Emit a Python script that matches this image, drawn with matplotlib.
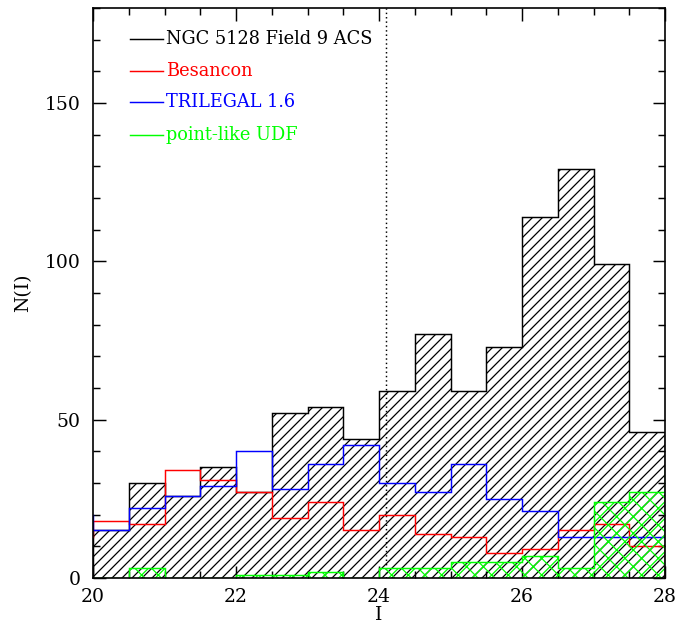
import matplotlib
matplotlib.use("Agg")
import matplotlib.pyplot as plt
import numpy as np
from matplotlib.ticker import MultipleLocator

# I-band counts per 0.5 mag bin
ngc_edges = np.arange(20.0, 28.01, 0.5)
ngc_counts = [15, 30, 26, 35, 27, 52, 54, 44, 59, 77, 59, 73, 114, 129, 99, 46]

besancon_edges = np.arange(19.5, 28.01, 0.5)
besancon_counts = [13, 18, 17, 34, 31, 27, 19, 24, 15, 20, 14, 13, 8, 9, 15, 17, 10]

trilegal_edges = np.arange(19.5, 28.51, 0.5)
trilegal_counts = [20, 15, 22, 26, 29, 40, 28, 36, 42, 30, 27, 36, 25, 21, 13, 13, 13, 13]

udf_edges = np.arange(20.0, 28.51, 0.5)
udf_counts = [0, 3, 0, 0, 1, 1, 2, 0, 3, 3, 5, 5, 7, 3, 24, 27, 34]

cut_mag = 24.1

labels = ["NGC 5128 Field 9 ACS", "Besancon", "TRILEGAL 1.6", "point-like UDF"]
colors = ["black", "#ff0000", "#0000ff", "#00ff00"]

plt.rcParams["font.family"] = ["DejaVu Serif"]
plt.rcParams["hatch.linewidth"] = 0.6

DPI = 150
fig = plt.figure(figsize=(691 / DPI, 629 / DPI), dpi=DPI)
ax = fig.add_axes([0.1346, 0.0811, 0.8278, 0.9062])

ax.stairs(ngc_counts, ngc_edges, baseline=0, fill=True, facecolor="none",
          edgecolor="black", hatch="/////", linewidth=0.7, zorder=2)
ax.stairs(besancon_counts, besancon_edges, baseline=0, color=colors[1],
          linewidth=0.7, zorder=3)
ax.stairs(trilegal_counts, trilegal_edges, baseline=None, color=colors[2],
          linewidth=0.7, zorder=3)
ax.stairs(udf_counts, udf_edges, baseline=0, fill=True, facecolor="none",
          edgecolor=colors[3], hatch="xxx", linewidth=0.7, zorder=4)

ax.axvline(cut_mag, color="black", linestyle=(0, (1, 2)), linewidth=0.7, zorder=1)

ax.set_xlim(20, 28)
ax.set_ylim(0, 180)
ax.xaxis.set_major_locator(MultipleLocator(2))
ax.xaxis.set_minor_locator(MultipleLocator(0.5))
ax.yaxis.set_major_locator(MultipleLocator(50))
ax.yaxis.set_minor_locator(MultipleLocator(10))
ax.tick_params(which="both", direction="in", top=True, right=True,
               width=0.7, labelsize=9)
ax.tick_params(axis="x", pad=5)
ax.tick_params(axis="y", pad=6)
ax.tick_params(which="major", length=6)
ax.tick_params(which="minor", length=3.5)
for sp in ax.spines.values():
    sp.set_linewidth(0.8)
    sp.set_zorder(5)

ax.set_xlabel("I", fontsize=9, labelpad=0)
ax.set_ylabel("N(I)", fontsize=9, labelpad=6)

# hand-placed key in the upper-left corner
key_y = [0.946, 0.890, 0.835, 0.778]
for lab, col, yy in zip(labels, colors, key_y):
    ax.plot([0.065, 0.122], [yy, yy], color=col, linewidth=0.7,
            transform=ax.transAxes, zorder=6)
    ax.text(0.127, yy, lab, color=col, fontsize=8.5, va="center", ha="left",
            transform=ax.transAxes, zorder=6)

fig.savefig("out.png", dpi=DPI)
